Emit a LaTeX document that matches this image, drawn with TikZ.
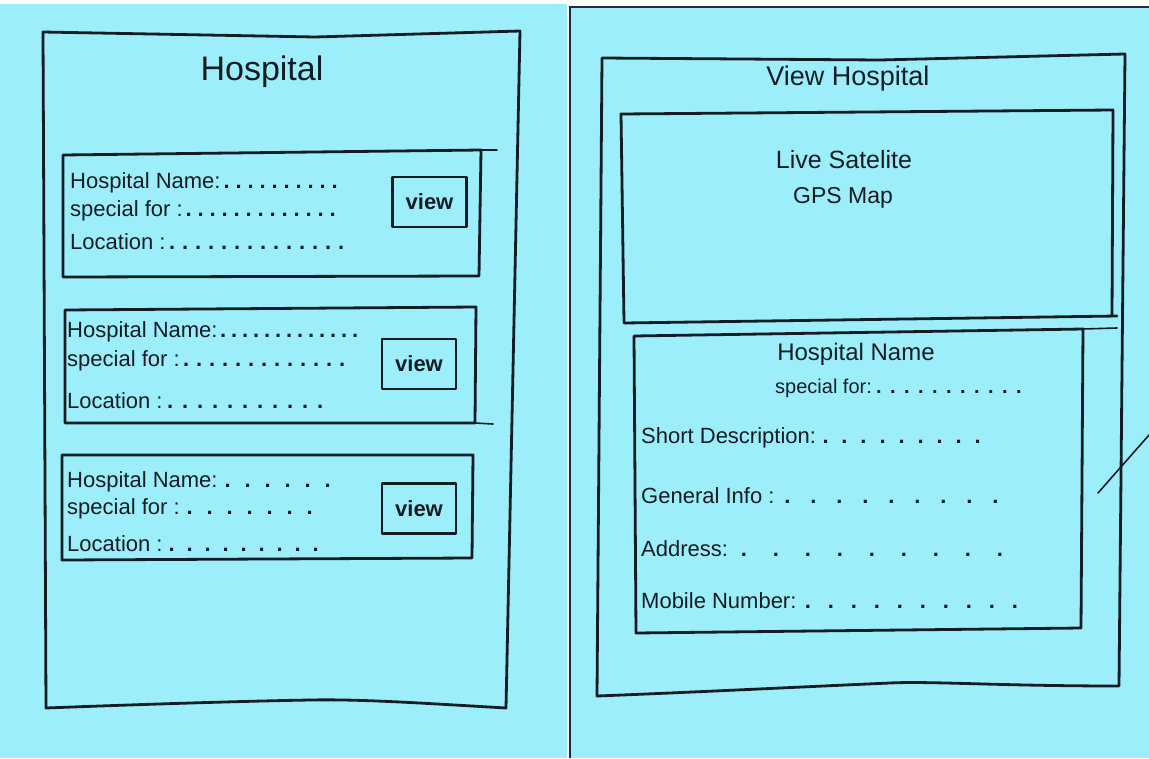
\documentclass[tikz,border=0pt]{standalone}
\usepackage{fontspec}
\setmainfont{Liberation Sans}
\usetikzlibrary{positioning}
\definecolor{paper}{RGB}{155,238,250}
\definecolor{ink}{RGB}{22,28,36}
\definecolor{seam}{RGB}{28,44,72}
\newcommand{\dotrun}[2]{\hbox to #1{\leaders\hbox to #2{\hss\textbf{.}\hss}\hfill}}

\begin{document}
\begin{tikzpicture}[x=1pt,y=-1pt]
  \tikzset{
    pen/.style={draw=ink,line width=2.8pt,line cap=round,line join=round},
    thinpen/.style={draw=ink,line width=1.6pt,line cap=round},
    field/.style={anchor=west,inner sep=0pt,text=ink,font=\fontsize{22}{26}\selectfont},
    title/.style={inner sep=0pt,text=ink,font=\fontsize{#1}{#1}\selectfont},
    viewbtn/.style={pen,minimum width=74pt,minimum height=50pt,inner sep=0pt,
      text=ink,font=\fontsize{22}{24}\selectfont\bfseries},
  }
  \useasboundingbox (0,0) rectangle (1149,758);
  \fill[white] (0,0) rectangle (1149,758);
  \fill[paper] (0,4) rectangle (567,758);
  \fill[paper] (571,7) rectangle (1149,758);
  \draw[seam,line width=1.8pt] (570,758) -- (570,7) -- (1149,7);

  % list screen
  \coordinate (la) at (43,32);
  \coordinate (lb) at (520,31);
  \coordinate (lc) at (506,708);
  \coordinate (ld) at (46,708);
  \draw[pen] (la) -- (315,37) -- (lb) -- (lc)
    .. controls (420,703) and (360,699) .. (310,700)
    .. controls (250,701) and (150,704) .. (ld) -- cycle;
  \node[title=34] (htitle) at (262,72) {Hospital};

  \draw[pen] (63,155) -- (481,150) -- (479,276) -- (63,277) -- cycle;
  \draw[thinpen] (481,150) -- (497,150);
  \node[viewbtn] (view1) at (429.5,202) {view};
  \node[field] (name1) at (70,183) {Hospital Name:\dotrun{120pt}{12pt}};
  \node[field] (spec1) at (70,211) {special for :\dotrun{165pt}{12pt}};
  \node[field] (loc1) at (70,242) {Location :\dotrun{190pt}{13pt}};

  \draw[pen] (65,310) -- (476,307) -- (475,423) -- (65,423) -- cycle;
  \draw[thinpen] (475,423) -- (493,424);
  \node[viewbtn] (view2) at (419,364) {view};
  \node[field] (name2) at (67,332) {Hospital Name:\dotrun{145pt}{11pt}};
  \node[field] (spec2) at (67,361) {special for :\dotrun{172pt}{13pt}};
  \node[field] (loc2) at (67,401) {Location :\dotrun{168pt}{15pt}};

  \draw[pen] (62,455) -- (473,455) -- (472,558) -- (62,560) -- cycle;
  \node[viewbtn] (view3) at (419,508.5) {view};
  \node[field] (name3) at (67,482) {Hospital Name:\dotrun{124pt}{20pt}};
  \node[field] (spec3) at (67,509) {special for :\dotrun{150pt}{20pt}};
  \node[field] (loc3) at (67,544) {Location :\dotrun{168pt}{18pt}};

  % detail screen
  \coordinate (ra) at (602,58);
  \coordinate (rb) at (1125,54);
  \coordinate (rc) at (1119,686);
  \coordinate (rd) at (597,696);
  \draw[pen] (ra) -- (880,60) -- (rb) -- (rc)
    .. controls (1000,686) and (930,681) .. (890,683)
    .. controls (820,686) and (700,692) .. (rd) -- cycle;
  \node[title=27] (vtitle) at (848,79) {View Hospital};

  \draw[pen] (624,322) -- (621,114) -- (1113,110) -- (1112,316);
  \draw[pen] (624,323) -- (1117,316);
  \node[title=25] (live) at (844,160) {Live Satelite};
  \node[title=23] (gps) at (843,198) {GPS Map};

  \draw[pen] (636,633) -- (634,336) -- (1083,329) -- (1081,628) -- cycle;
  \draw[thinpen] (1083,329) -- (1117,328);
  \node[title=24] (hname) at (856,354) {Hospital Name};
  \node[field,font=\fontsize{20}{24}\selectfont] (spec) at (775,388)
    {special for:\dotrun{166pt}{14pt}};
  \node[field] (desc) at (641,438) {Short Description:\dotrun{173pt}{19pt}};
  \node[field] (info) at (641,496) {General Info :\dotrun{240pt}{26pt}};
  \node[field] (addr) at (641,549) {Address:\dotrun{290pt}{32pt}};
  \node[field] (mob) at (641,601) {Mobile Number:\dotrun{230pt}{23pt}};

  \draw[thinpen] (1098,493) -- (1149,435);
\end{tikzpicture}
\end{document}
